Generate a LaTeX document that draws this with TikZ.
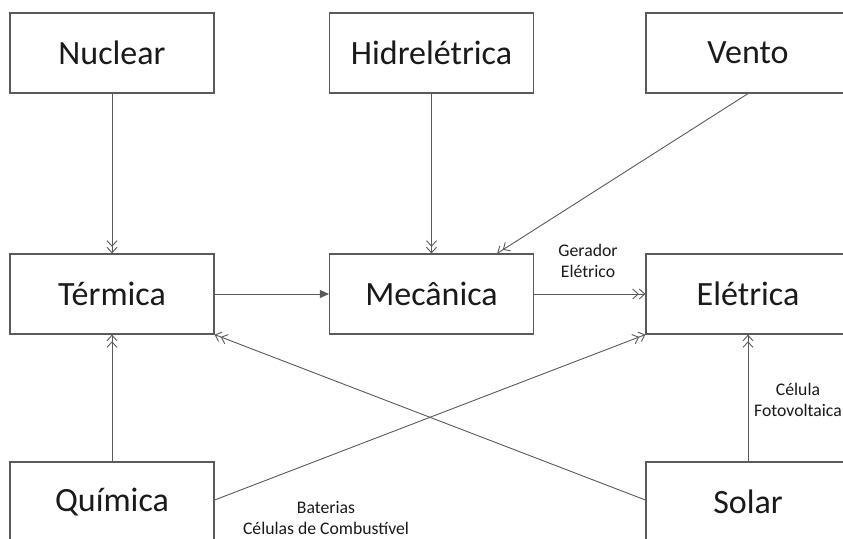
\documentclass[tikz,border=0pt]{standalone}
\usepackage{fontspec}
\setmainfont{Carlito}
\usetikzlibrary{arrows.meta,calc}
\definecolor{boxline}{HTML}{5A5A5A}
\definecolor{wire}{HTML}{5A5A5A}
\definecolor{ink}{HTML}{1A1A1A}
\tikzset{
  energy/.style={draw=boxline, line width=1.2pt, minimum width=204pt, minimum height=80pt,
    inner sep=0pt, font=\fontsize{34}{37}\selectfont, text=ink},
  conv/.style={wire, line width=0.9pt, -{Straight Barb[length=5.5pt,width=10pt]Straight Barb[length=5.5pt,width=10pt]}},
  convfill/.style={wire, line width=0.9pt, -{Triangle[length=9pt,width=8pt]}},
  tag/.style={align=center, font=\fontsize{17.7}{20.5}\selectfont, text=ink}
}
\begin{document}
\begin{tikzpicture}[x=1pt,y=-1pt]
\useasboundingbox (0,0) rectangle (843,538);
\clip (0,0) rectangle (843,538);
\fill[white] (0,0) rectangle (843,538);

% energy forms
\node[energy] (nuc)  at (112,53)   {Nuclear};
\node[energy] (hid)  at (431.5,53) {Hidrelétrica};
\node[energy] (ven)  at (748,53)   {Vento};
\node[energy] (ter)  at (112,294)  {Térmica};
\node[energy] (mec)  at (431.5,294){Mecânica};
\node[energy] (ele)  at (748,294)  {Elétrica};
\node[energy] (qui)  at (112,502)  {Química};
\node[energy] (sol)  at (748,502)  {Solar};

% conversions
\draw[conv] (nuc.south) -- (ter.north);
\draw[conv] (hid.south) -- (mec.north);
\draw[conv] (ven.south) -- ($(mec.north)!0.64!(mec.north east)$);
\draw[convfill] (ter.east) -- (mec.west);
\draw[conv] (mec.east) -- (ele.west);
\draw[conv] (qui.north) -- (ter.south);
\draw[conv] (sol.north) -- (ele.south);
\draw[conv] ($(qui.east)+(0,-2)$) -- (ele.south west);
\draw[conv] ($(sol.west)+(0,-2)$) -- (ter.south east);

% conversion devices
\node[tag] (ger) at (588,261) {Gerador\\Elétrico};
\node[tag] (fot) at (798,400) {Célula\\Fotovoltaica};
\node[tag] (bat) at (326,518) {Baterias\\Células de Combustível};
\end{tikzpicture}
\end{document}
